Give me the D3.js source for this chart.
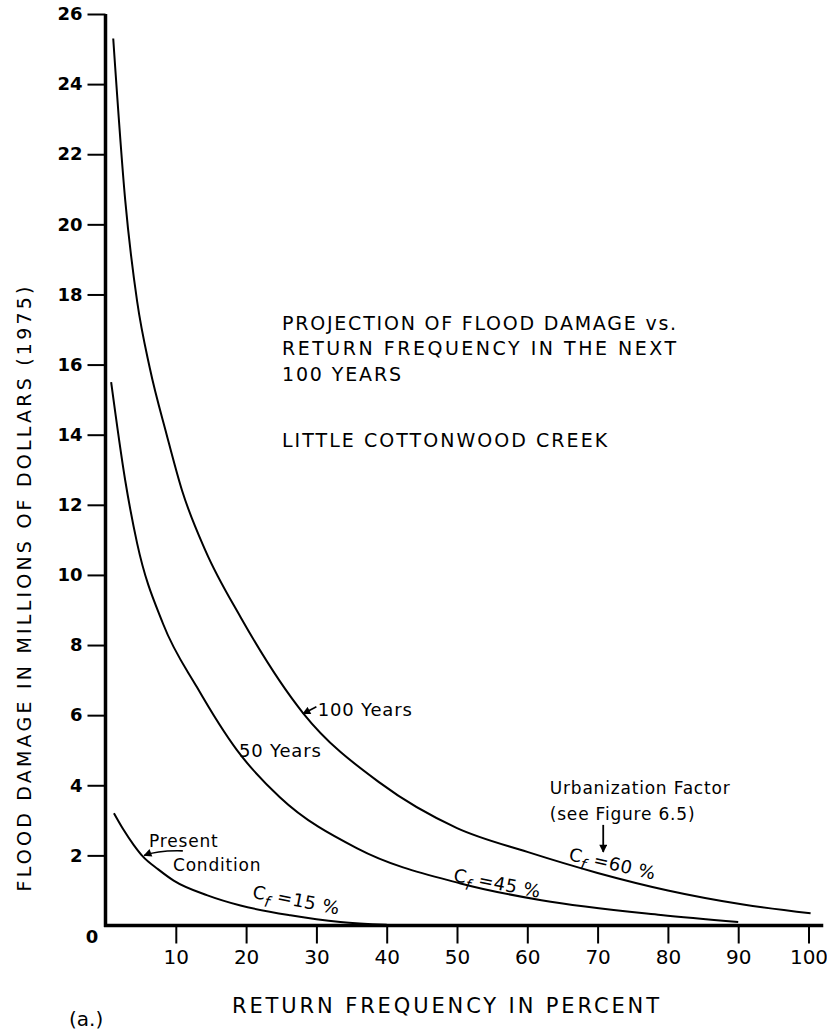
<!DOCTYPE html>
<html>
<head>
<meta charset="utf-8">
<script src="https://cdn.jsdelivr.net/npm/d3@7"></script>
<style>
  html, body { margin: 0; padding: 0; background: #fff; }
  svg { display: block; font-family: "DejaVu Sans", sans-serif; }
</style>
</head>
<body>
<svg width="827" height="1033"></svg>
<script>
// return frequency (%) vs flood damage (millions of 1975 dollars)
const presentFreq = [1.2, 2.5, 4, 5.3, 7.5, 9.7, 14.5, 19.2, 26.3, 33.4, 40];
const presentDamage = [3.2, 2.75, 2.3, 1.97, 1.6, 1.28, 0.86, 0.57, 0.29, 0.1, 0.02];

const fiftyFreq = [0.8, 2.8, 4.5, 8.2, 13, 18.7, 24.8, 35.8, 50.5, 62, 79, 90];
const fiftyDamage = [15.5, 12.7, 10.9, 8.6, 6.8, 5.0, 3.66, 2.2, 1.2, 0.72, 0.3, 0.1];

const hundredFreq = [1.1, 2.8, 4.5, 6.3, 8.7, 10.9, 14.2, 19.2, 28.1, 39.1, 50, 60, 70, 80, 90.7, 100.3];
const hundredDamage = [25.3, 20.7, 17.8, 15.9, 14.0, 12.4, 10.7, 8.8, 6.06, 4.06, 2.78, 2.1, 1.5, 1.0, 0.6, 0.35];

const xTicks = [10, 20, 30, 40, 50, 60, 70, 80, 90, 100];
const yTicks = [2, 4, 6, 8, 10, 12, 14, 16, 18, 20, 22, 24, 26];

const titleLines = ["PROJECTION OF FLOOD DAMAGE vs.", "RETURN FREQUENCY IN THE NEXT", "100 YEARS"];
const creekName = "LITTLE COTTONWOOD CREEK";

let svg = d3.select("svg"),
    width = +svg.attr("width"),
    height = +svg.attr("height"),
    margin = {top: 14, right: 18.5, bottom: 107.5, left: 105.5};

svg.append("rect").attr("width", width).attr("height", height).attr("fill", "#fff");

let x = d3.scaleLinear().domain([0, 100]).range([margin.left, width - margin.right]);
let y = d3.scaleLinear().domain([0, 26]).range([height - margin.bottom, margin.top]);

// arrow head
svg.append("defs").append("marker")
    .attr("id", "head")
    .attr("viewBox", "0 0 10 10")
    .attr("refX", 9).attr("refY", 5)
    .attr("markerWidth", 9).attr("markerHeight", 8)
    .attr("markerUnits", "userSpaceOnUse")
    .attr("orient", "auto")
    .append("path").attr("d", "M0,0 L10,5 L0,10 z").attr("fill", "#000");

//axes
let yAxis = svg.append("g")
    .attr("transform", `translate(${x(0)},0)`)
    .call(d3.axisLeft(y).tickValues(yTicks).tickSize(18).tickPadding(5).tickSizeOuter(0));
yAxis.select(".domain").remove();
yAxis.selectAll(".tick line").attr("stroke", "#000").attr("stroke-width", 2);
yAxis.selectAll(".tick text")
    .attr("font-family", "DejaVu Sans, sans-serif")
    .attr("font-size", 18).attr("font-weight", "bold").attr("fill", "#000");

let xAxis = svg.append("g")
    .attr("transform", `translate(0,${y(0)})`)
    .call(d3.axisBottom(x).tickValues(xTicks).tickSize(18).tickPadding(6).tickSizeOuter(0));
xAxis.select(".domain").remove();
xAxis.selectAll(".tick line").attr("stroke", "#000").attr("stroke-width", 2);
xAxis.selectAll(".tick text")
    .attr("font-family", "DejaVu Sans, sans-serif")
    .attr("font-size", 20).attr("fill", "#000");

svg.append("line")
    .attr("x1", x(0)).attr("x2", x(0))
    .attr("y1", y(26)).attr("y2", y(0) + 1.5)
    .attr("stroke", "#000").attr("stroke-width", 3.5);
svg.append("line")
    .attr("x1", x(0) - 1.5).attr("x2", x(102.1))
    .attr("y1", y(0)).attr("y2", y(0))
    .attr("stroke", "#000").attr("stroke-width", 3.5);

svg.append("text")
    .attr("x", x(0) - 13.5).attr("y", y(0) + 17)
    .attr("text-anchor", "middle")
    .attr("font-size", 18).attr("font-weight", "bold")
    .text("0");

//curves
let line = d3.line()
    .x(d => x(d[0]))
    .y(d => y(d[1]))
    .curve(d3.curveMonotoneX);

[[presentFreq, presentDamage], [fiftyFreq, fiftyDamage], [hundredFreq, hundredDamage]]
    .forEach(([f, v]) => {
        svg.append("path")
            .datum(d3.zip(f, v))
            .attr("fill", "none")
            .attr("stroke", "#000")
            .attr("stroke-width", 2)
            .attr("d", line);
    });

//annotations
let note = (fx, dv, txt, size) => svg.append("text")
    .attr("x", x(fx)).attr("y", y(dv))
    .attr("font-size", size || 17)
    .attr("letter-spacing", 0.8)
    .text(txt);

titleLines.forEach((t, i) => {
    note(25.1, [17.0, 16.28, 15.54][i], t, 19)
        .attr("textLength", [395, 395, 120][i]).attr("lengthAdjust", "spacing");
});
note(25.1, 13.66, creekName, 19).attr("textLength", 326).attr("lengthAdjust", "spacing");

note(30.2, 5.98, "100 Years", 18);
svg.append("line")
    .attr("x1", x(30.0)).attr("y1", y(6.24))
    .attr("x2", x(28.1)).attr("y2", y(6.04))
    .attr("stroke", "#000").attr("stroke-width", 1.6)
    .attr("marker-end", "url(#head)");

note(19.0, 4.81, "50 Years", 18);

note(6.2, 2.24, "Present", 17);
note(9.6, 1.55, "Condition", 17);
svg.append("path")
    .attr("d", `M${x(11.0)},${y(2.13)} Q${x(7.5)},${y(2.15)} ${x(5.5)},${y(2.0)}`)
    .attr("fill", "none").attr("stroke", "#000").attr("stroke-width", 1.6)
    .attr("marker-end", "url(#head)");

note(63.2, 3.75, "Urbanization  Factor", 17);
note(63.2, 3.01, "(see Figure 6.5)", 17);
svg.append("line")
    .attr("x1", x(70.8)).attr("y1", y(2.87))
    .attr("x2", x(70.8)).attr("y2", y(2.1))
    .attr("stroke", "#000").attr("stroke-width", 1.8)
    .attr("marker-end", "url(#head)");

// C_f labels, tilted along the curves
let cfLabel = (fx, dv, angle, pct) => {
    let t = svg.append("text")
        .attr("font-size", 18)
        .attr("letter-spacing", 0.5)
        .attr("transform", `translate(${x(fx)},${y(dv)}) rotate(${angle})`);
    t.append("tspan").text("C");
    t.append("tspan").attr("dy", 6).attr("font-size", 15).attr("font-style", "italic").text("f");
    t.append("tspan").attr("dy", -6).text(" =" + pct + " %");
};
cfLabel(20.8, 0.79, 11, 15);
cfLabel(49.4, 1.27, 11, 45);
cfLabel(65.8, 1.87, 13, 60);

//axis titles
svg.append("text")
    .attr("transform", `translate(24,589) rotate(-90)`)
    .attr("text-anchor", "middle")
    .attr("dy", "0.35em")
    .attr("font-size", 19)
    .attr("textLength", 605).attr("lengthAdjust", "spacing")
    .text("FLOOD DAMAGE IN MILLIONS OF DOLLARS (1975)");

svg.append("text")
    .attr("x", 232).attr("y", 1013)
    .attr("font-size", 21)
    .attr("textLength", 427).attr("lengthAdjust", "spacing")
    .text("RETURN FREQUENCY IN PERCENT");

svg.append("text")
    .attr("x", 69).attr("y", 1026)
    .attr("font-size", 20)
    .text("(a.)");
</script>
</body>
</html>
